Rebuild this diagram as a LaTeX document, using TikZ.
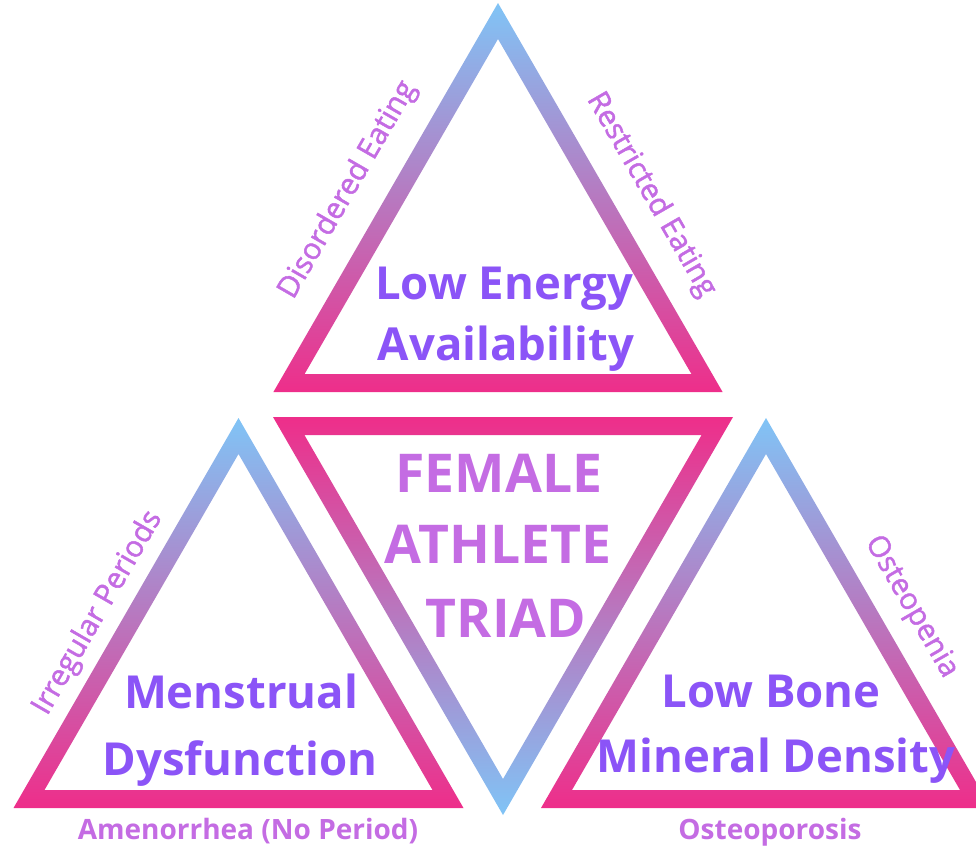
\documentclass[tikz,border=0pt]{standalone}
\usepackage{fontspec}
\setmainfont{Open Sans}
\newfontfamily\sidefont{Open Sans}[FakeBold=1.6]
\definecolor{tblue}{RGB}{128,196,246}
\definecolor{tpink}{RGB}{238,46,138}
\definecolor{mainpurple}{RGB}{139,84,247}
\definecolor{orchid}{RGB}{196,108,227}
\tikzset{
  mainlbl/.style={text=mainpurple, font=\bfseries\fontsize{45.5}{52}\selectfont, anchor=base, inner sep=0pt},
  triadlbl/.style={text=orchid, font=\bfseries\fontsize{53.5}{60}\selectfont, anchor=base, inner sep=0pt},
  sidelbl/.style={text=orchid, font=\sidefont\fontsize{29.5}{34}\selectfont, inner sep=0pt},
  botlbl/.style={text=orchid, font=\bfseries\fontsize{28}{32}\selectfont, anchor=base, inner sep=0pt},
  upring/.style={top color=tblue, bottom color=tpink, even odd rule},
  downring/.style={top color=tpink, bottom color=tblue, even odd rule}
}
\begin{document}
\begin{tikzpicture}[x=1pt,y=-1pt]
\path[use as bounding box] (0,0) rectangle (976,849);
\clip (0,0) rectangle (976,849);
% top triangle
\shade[upring] (498,3) -- (273.4,392) -- (722.6,392) -- cycle
               (498,39) -- (304.6,374) -- (691.4,374) -- cycle;
% left triangle
\shade[upring] (238.5,418) -- (13.5,808) -- (463.5,808) -- cycle
               (238.5,454) -- (44.5,790) -- (432.5,790) -- cycle;
% right triangle
\shade[upring] (766,418) -- (541,808) -- (991,808) -- cycle
               (766,454) -- (572,790) -- (960,790) -- cycle;
% center inverted triangle
\shade[downring] (273,417) -- (733,417) -- (503,815) -- cycle
                 (304.4,435) -- (701.6,435) -- (503,779) -- cycle;
% labels
\node[mainlbl] (lea1) at (504,299) {Low Energy};
\node[mainlbl] (lea2) at (506,360) {Availability};
\node[triadlbl] (fat1) at (499,492) {FEMALE};
\node[triadlbl] (fat2) at (498,563) {ATHLETE};
\node[triadlbl] (fat3) at (506,637) {TRIAD};
\node[mainlbl] (md1) at (241,708) {Menstrual};
\node[mainlbl] (md2) at (240,775) {Dysfunction};
\node[mainlbl] (lb1) at (771,707) {Low Bone};
\node[mainlbl] (lb2) at (776,772) {Mineral Density};
\node[sidelbl, rotate=60] (de) at (348,190) {Disordered Eating};
\node[sidelbl, rotate=-60] (re) at (651,195) {Restricted Eating};
\node[sidelbl, rotate=60] (ip) at (98,613) {Irregular Periods};
\node[sidelbl, rotate=-60] (op) at (911,607) {Osteopenia};
\node[botlbl] (am) at (248,839) {Amenorrhea (No Period)};
\node[botlbl] (os) at (770,839) {Osteoporosis};
\end{tikzpicture}
\end{document}
